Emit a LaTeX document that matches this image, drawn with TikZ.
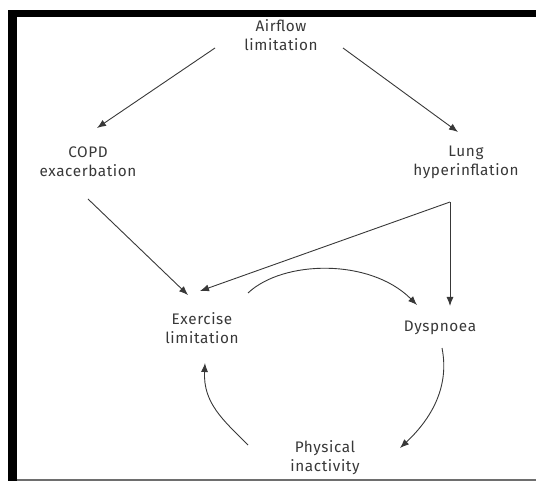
\documentclass[tikz,border=0pt]{standalone}
\usepackage{fontspec}
\setmainfont{Fira Sans}[LetterSpace=4]
\usetikzlibrary{arrows.meta}
\definecolor{ink}{HTML}{383838}
\definecolor{rule}{HTML}{6E6E6E}
\tikzset{
  label text/.style={align=center, text=ink, inner sep=0pt,
    font=\fontsize{15.3}{19}\selectfont},
  link/.style={draw=ink, line width=0.9pt,
    -{Latex[length=9pt,width=7pt]}},
}
\begin{document}
\begin{tikzpicture}[x=1pt, y=-1pt]
  \useasboundingbox (0,0) rectangle (536,481);
  % frame: heavy black bands top and left, thin grey rule at the bottom
  \fill[black] (8,10) rectangle (536,17.3);
  \fill[black] (8,10) rectangle (16.7,481);
  \draw[rule, line width=1.4pt] (16.7,480) -- (536,480);

  % concepts
  \node[label text] (air)  at (281,35)  {Airflow\\limitation};
  \node[label text] (copd) at (88,162)  {COPD\\exacerbation};
  \node[label text] (lung) at (466,162) {Lung\\hyperinflation};
  \node[label text] (ex)   at (202,328) {Exercise\\limitation};
  \node[label text] (dys)  at (440,328) {Dyspnoea};
  \node[label text] (phys) at (325,458) {Physical\\inactivity};

  % causal links
  \draw[link] ([shift={(-66,13)}]air.center) -- ([shift={(9,-34)}]copd.center);
  \draw[link] ([shift={(62,13)}]air.center) -- ([shift={(-8,-30)}]lung.center);
  \draw[link] ([shift={(0,37)}]copd.center) -- ([shift={(-14,-33)}]ex.center);
  \coordinate (split) at ([shift={(-16,40)}]lung.center);
  \draw[link] (split) -- ([shift={(-2,-37)}]ex.center);
  \draw[link] (split) -- ([shift={(10,-22)}]dys.center);

  % vicious circle
  \draw[link] ([shift={(46,-35)}]ex.center)
    .. controls +(35,-33) and +(-47,-47) .. ([shift={(-23,-23)}]dys.center);
  \draw[link] ([shift={(2,20)}]dys.center)
    .. controls +(8,40) and +(30,-28) .. ([shift={(75,-10)}]phys.center);
  \draw[link] ([shift={(-77,-13)}]phys.center)
    .. controls +(-25,-25) and +(-2,40) .. ([shift={(3,35)}]ex.center);
\end{tikzpicture}
\end{document}
